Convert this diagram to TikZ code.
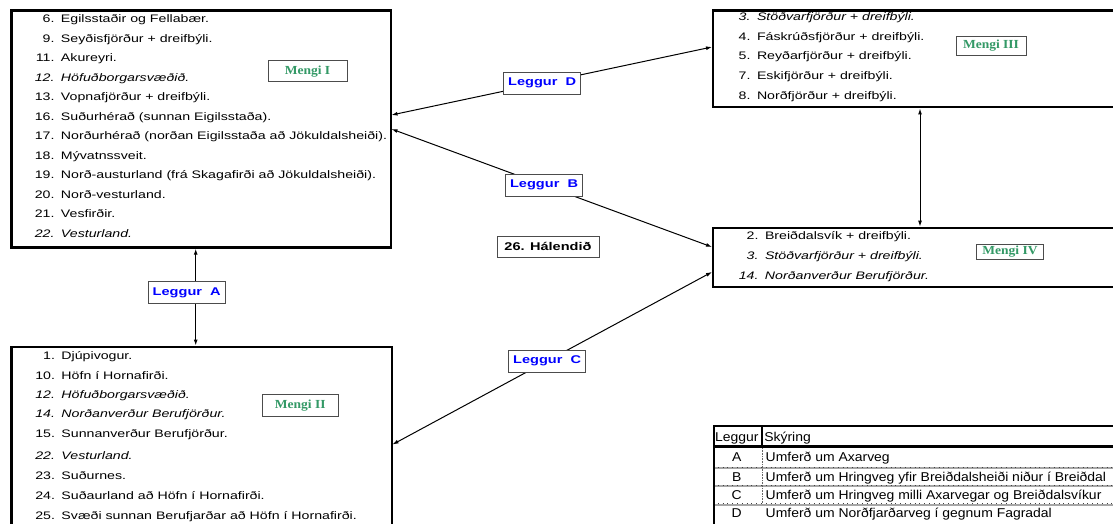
\documentclass[tikz,border=0pt]{standalone}
\usepackage{fontspec}
\setmainfont{Liberation Sans}[FakeStretch=1.3]
\newfontfamily\mengifont{Liberation Serif}[FakeStretch=1.1]
\newfontfamily\tabfont{Liberation Sans}[FakeStretch=1.09]
\usetikzlibrary{arrows.meta}
\definecolor{mengigreen}{RGB}{51,153,102}
\newcommand{\nr}[1]{\llap{#1\hspace{6.5pt}}}

\begin{document}
\begin{tikzpicture}[x=1pt,y=-1pt,>={Latex[length=6pt,width=4pt]},
    every node/.style={inner sep=0pt,outer sep=0pt},
    mengibox/.style={draw=black,line width=2.4pt,anchor=north west},
    item/.style={anchor=base west,font=\fontsize{10.9}{13}\selectfont},
    itemit/.style={anchor=base west,font=\fontsize{10.9}{13}\selectfont\itshape},
    mengilabel/.style={draw=black!70,line width=0.8pt,fill=white,text=mengigreen,
        font=\mengifont\fontsize{12.3}{14}\selectfont\bfseries},
    leglabel/.style={draw=black!70,line width=0.8pt,fill=white,text=blue,
        font=\fontsize{11.2}{13}\selectfont\bfseries,minimum width=77pt,minimum height=22pt},
    tabtext/.style={anchor=base west,font=\tabfont\fontsize{12.8}{15}\selectfont},
    tabkey/.style={anchor=base,font=\tabfont\fontsize{12.8}{15}\selectfont},
    rowline/.style={draw=black!35,line width=2pt},
    rowtick/.style={draw=black!75,line width=0.7pt,dash pattern=on 0.8pt off 4pt}]
    \clip (0,0) rectangle (1113,524);

    % Mengi I
    \node[mengibox,minimum width=379.4pt,minimum height=236.8pt] (boxI) at (11.3,10.7) {};
    \node[item] (i6) at (61,22.7) {\nr{6.}Egilsstaðir og Fellabær.};
    \node[item] (i9) at (61,42.2) {\nr{9.}Seyðisfjörður + dreifbýli.};
    \node[item] (i11) at (61,61.7) {\nr{11.}Akureyri.};
    \node[itemit] (i12) at (61,81.2) {\nr{12.}Höfuðborgarsvæðið.};
    \node[item] (i13) at (61,100.7) {\nr{13.}Vopnafjörður + dreifbýli.};
    \node[item] (i16) at (61,120.2) {\nr{16.}Suðurhérað (sunnan Eigilsstaða).};
    \node[item] (i17) at (61,139.7) {\nr{17.}Norðurhérað (norðan Eigilsstaða að Jökuldalsheiði).};
    \node[item] (i18) at (61,159.2) {\nr{18.}Mývatnssveit.};
    \node[item] (i19) at (61,178.7) {\nr{19.}Norð-austurland (frá Skagafirði að Jökuldalsheiði).};
    \node[item] (i20) at (61,198.2) {\nr{20.}Norð-vesturland.};
    \node[item] (i21) at (61,217.7) {\nr{21.}Vesfirðir.};
    \node[itemit] (i22) at (61,237.2) {\nr{22.}Vesturland.};
    \node[mengilabel,minimum width=79pt,minimum height=21pt] (mI) at (307.5,71.2) {Mengi I};

    % Mengi III
    \node[mengibox,minimum width=420pt,minimum height=96.6pt] (boxIII) at (713,10.7) {};
    \node[itemit] (iii3) at (757,20.5) {\nr{3.}Stöðvarfjörður + dreifbýli.};
    \node[item] (iii4) at (757,40.2) {\nr{4.}Fáskrúðsfjörður + dreifbýli.};
    \node[item] (iii5) at (757,59.9) {\nr{5.}Reyðarfjörður + dreifbýli.};
    \node[item] (iii7) at (757,79.6) {\nr{7.}Eskifjörður + dreifbýli.};
    \node[item] (iii8) at (757,99.3) {\nr{8.}Norðfjörður + dreifbýli.};
    \node[mengilabel,minimum width=70pt,minimum height=19pt] (mIII) at (991,45.5) {Mengi III};

    % Mengi IV
    \node[mengibox,minimum width=420pt,minimum height=58.9pt] (boxIV) at (713,227.8) {};
    \node[item] (iv2) at (765,239.4) {\nr{2.}Breiðdalsvík + dreifbýli.};
    \node[itemit] (iv3) at (765,259.4) {\nr{3.}Stöðvarfjörður + dreifbýli.};
    \node[itemit] (iv14) at (765,279.4) {\nr{14.}Norðanverður Berufjörður.};
    \node[mengilabel,minimum width=67pt,minimum height=15.5pt] (mIV) at (1010,251.7) {Mengi IV};

    % Mengi II
    \node[mengibox,minimum width=380.7pt,minimum height=200pt] (boxII) at (11.3,346.7) {};
    \node[item] (ii1) at (61.5,359.4) {\nr{1.}Djúpivogur.};
    \node[item] (ii10) at (61.5,379.4) {\nr{10.}Höfn í Hornafirði.};
    \node[itemit] (ii12) at (61.5,398.4) {\nr{12.}Höfuðborgarsvæðið.};
    \node[itemit] (ii14) at (61.5,417.7) {\nr{14.}Norðanverður Berufjörður.};
    \node[item] (ii15) at (61.5,437) {\nr{15.}Sunnanverður Berufjörður.};
    \node[itemit] (ii22) at (61.5,459.4) {\nr{22.}Vesturland.};
    \node[item] (ii23) at (61.5,479.4) {\nr{23.}Suðurnes.};
    \node[item] (ii24) at (61.5,499.4) {\nr{24.}Suðaurland að Höfn í Hornafirði.};
    \node[item] (ii25) at (61.5,519.4) {\nr{25.}Svæði sunnan Berufjarðar að Höfn í Hornafirði.};
    \node[mengilabel,minimum width=76pt,minimum height=22.4pt] (mII) at (300.2,405.5) {Mengi II};

    % Leggir
    \coordinate (aI) at (195.7,248.7);
    \coordinate (aII) at (195.7,345.5);
    \coordinate (dI) at (391.5,115);
    \coordinate (dIII) at (712,47);
    \coordinate (bI) at (391.5,129);
    \coordinate (bIV) at (712,247);
    \coordinate (cII) at (392.5,444.5);
    \coordinate (cIV) at (712,272);
    \coordinate (eIII) at (920,108.5);
    \coordinate (eIV) at (920,226.6);
    \draw[line width=1pt] (aI) edge[<->] (aII);
    \node[leglabel] (legA) at (186.7,292.5) {Leggur~~A};
    \draw[line width=1pt] (dI) edge[<->] node[leglabel,pos=.47] (legD) {Leggur~~D} (dIII);
    \draw[line width=1pt] (bI) edge[<->] node[leglabel,pos=.476] (legB) {Leggur~~B} (bIV);
    \draw[line width=1pt] (cII) edge[<->] node[leglabel,pos=.484] (legC) {Leggur~~C} (cIV);
    \draw[line width=1pt] (eIII) edge[<->] (eIV);

    \node[draw=black!70,line width=0.8pt,minimum width=102pt,minimum height=21pt,
        font=\fontsize{11.2}{13}\selectfont\bfseries] (hal) at (548,246.5) {26. Hálendið};

    % Skýringartafla
    \draw[rowline] (713,468) -- (1120,468);
    \draw[rowtick] (713,467) -- (1120,467);
    \draw[rowline] (713,486.3) -- (1120,486.3);
    \draw[rowtick] (713,485.3) -- (1120,485.3);
    \draw[rowline] (713,504.7) -- (1120,504.7);
    \draw[rowtick] (713,503.7) -- (1120,503.7);
    \draw[black!60,line width=0.6pt,densely dotted] (761.8,448) -- (761.8,504);
    \draw[line width=2pt] (713,426) -- (1120,426);
    \draw[line width=3pt] (713,446.7) -- (1120,446.7);
    \draw[line width=1.5pt] (761.8,426) -- (761.8,446.7);
    \draw[line width=2.3pt] (713.8,425) -- (713.8,530);
    \node[tabtext] (hLeg) at (715,441) {Leggur};
    \node[tabtext] (hSky) at (764.3,441) {Skýring};
    \node[tabkey] (kA) at (736.7,461) {A};
    \node[tabtext] (tA) at (765.7,461) {Umferð um Axarveg};
    \node[tabkey] (kB) at (736.7,481) {B};
    \node[tabtext] (tB) at (765.7,481) {Umferð um Hringveg yfir Breiðdalsheiði niður í Breiðdal};
    \node[tabkey] (kC) at (736.7,499.3) {C};
    \node[tabtext] (tC) at (765.7,499.3) {Umferð um Hringveg milli Axarvegar og Breiðdalsvíkur};
    \node[tabkey] (kD) at (736.7,517.6) {D};
    \node[tabtext] (tD) at (765.7,517.6) {Umferð um Norðfjarðarveg í gegnum Fagradal};
\end{tikzpicture}
\end{document}
